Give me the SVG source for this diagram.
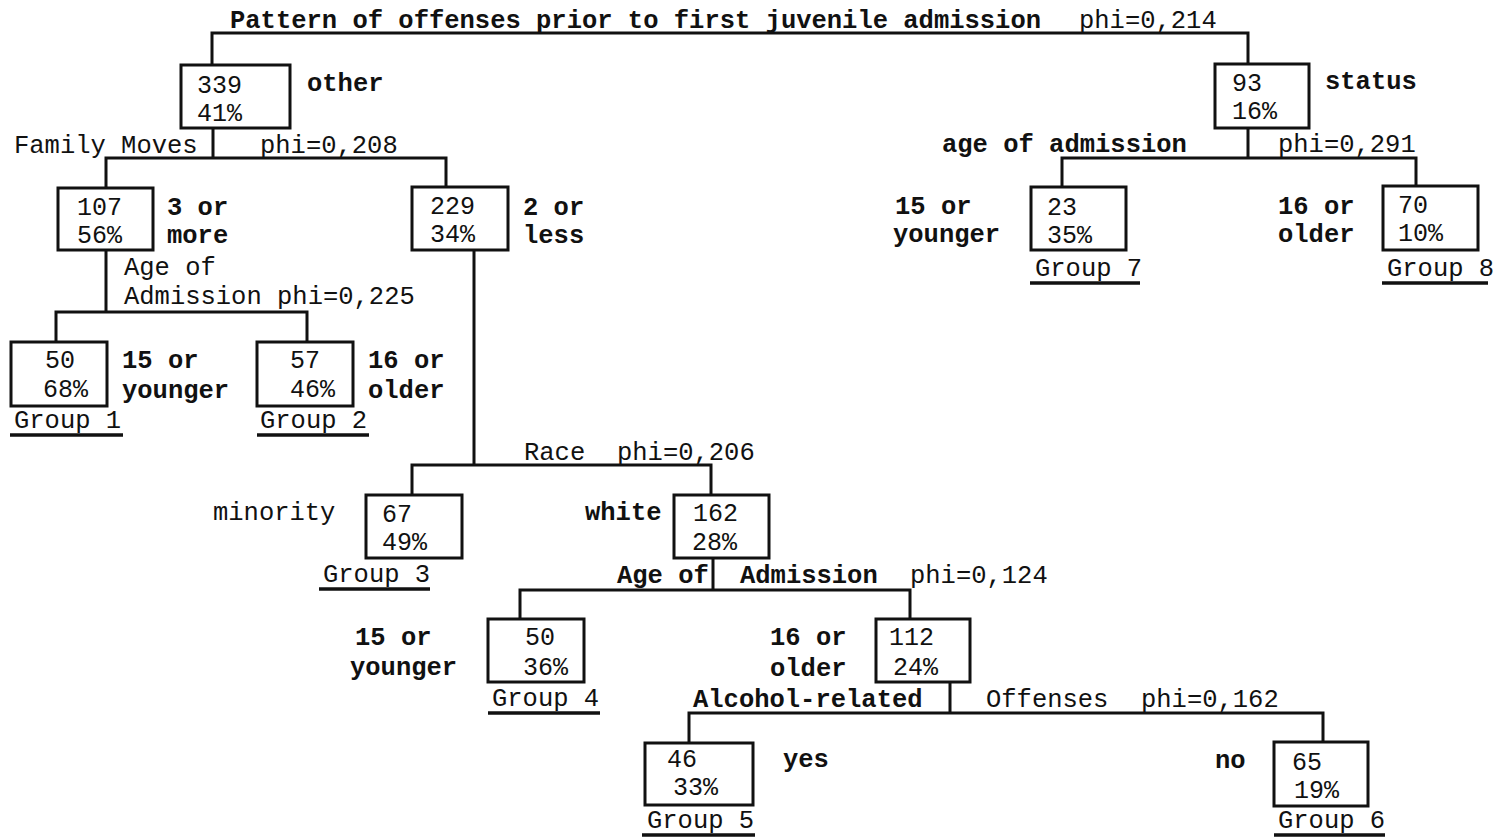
<svg xmlns="http://www.w3.org/2000/svg" width="1497" height="839" viewBox="0 0 1497 839">
<style>
text{font-family:"Liberation Mono","DejaVu Sans Mono",monospace;font-size:25.5px;fill:#111}
.b{font-weight:bold}
.n{font-size:25px}
.box{fill:none;stroke:#111;stroke-width:3}
.ln{fill:none;stroke:#111;stroke-width:3;stroke-linejoin:miter}
.ul{stroke:#111;stroke-width:3.5}
</style>
<rect width="1497" height="839" fill="#fff"/>
<g id="connectors" class="ln">
<path d="M212,65 V33 H1248 V64"/>
<path d="M213,128 V158 M106,188 V158 H446 V187"/>
<path d="M106,250 V312 M56,342 V312 H307 V342"/>
<path d="M474,250 V465 M412,495 V465 H711 V495"/>
<path d="M713,558 V590 M520,619 V590 H910 V619"/>
<path d="M950,682 V713 M689,743 V713 H1323 V742"/>
<path d="M1248,128 V158 M1062,187 V158 H1416 V186"/>
</g>
<g id="split-labels">
<text x="230" y="28" class="b">Pattern of offenses prior to first juvenile admission</text>
<text x="1079" y="28">phi=0,214</text>
<text x="14" y="153">Family Moves</text>
<text x="260" y="153">phi=0,208</text>
<text x="942" y="152" class="b">age of admission</text>
<text x="1278" y="152">phi=0,291</text>
<text x="124" y="275">Age of</text>
<text x="124" y="304">Admission phi=0,225</text>
<text x="524" y="460">Race</text>
<text x="617" y="460">phi=0,206</text>
<text x="617" y="583" class="b">Age of</text>
<text x="740" y="583" class="b">Admission</text>
<text x="910" y="583">phi=0,124</text>
<text x="693" y="707" class="b">Alcohol-related</text>
<text x="986" y="707">Offenses</text>
<text x="1141" y="707">phi=0,162</text>
</g>
<g id="node-339">
<rect class="box" x="181" y="65" width="109" height="63"/>
<text class="n" x="197" y="93">339</text><text class="n" x="197" y="121">41%</text>
<text class="b" x="307" y="91">other</text>
</g>
<g id="node-93">
<rect class="box" x="1215" y="64" width="94" height="64"/>
<text class="n" x="1232" y="91">93</text><text class="n" x="1232" y="119">16%</text>
<text class="b" x="1325" y="89">status</text>
</g>
<g id="node-107">
<rect class="box" x="58" y="188" width="95" height="62"/>
<text class="n" x="77" y="215">107</text><text class="n" x="77" y="243">56%</text>
<text class="b" x="167" y="215">3 or</text><text class="b" x="167" y="243">more</text>
</g>
<g id="node-229">
<rect class="box" x="412" y="187" width="96" height="63"/>
<text class="n" x="430" y="214">229</text><text class="n" x="430" y="242">34%</text>
<text class="b" x="523" y="215">2 or</text><text class="b" x="523" y="243">less</text>
</g>
<g id="node-23">
<rect class="box" x="1031" y="187" width="95" height="63"/>
<text class="n" x="1047" y="215">23</text><text class="n" x="1047" y="243">35%</text>
<text class="b" x="895" y="214">15 or</text><text class="b" x="893" y="242">younger</text>
<text x="1035" y="276">Group 7</text><line class="ul" x1="1030" y1="283" x2="1140" y2="283"/>
</g>
<g id="node-70">
<rect class="box" x="1383" y="186" width="95" height="64"/>
<text class="n" x="1398" y="213">70</text><text class="n" x="1398" y="241">10%</text>
<text class="b" x="1278" y="214">16 or</text><text class="b" x="1278" y="242">older</text>
<text x="1387" y="276">Group 8</text><line class="ul" x1="1382" y1="283" x2="1488" y2="283"/>
</g>
<g id="node-50a">
<rect class="box" x="11" y="342" width="96" height="64"/>
<text class="n" x="45" y="368">50</text><text class="n" x="43" y="397">68%</text>
<text class="b" x="122" y="368">15 or</text><text class="b" x="122" y="398">younger</text>
<text x="14" y="428">Group 1</text><line class="ul" x1="10" y1="435" x2="123" y2="435"/>
</g>
<g id="node-57">
<rect class="box" x="257" y="342" width="96" height="64"/>
<text class="n" x="290" y="368">57</text><text class="n" x="290" y="397">46%</text>
<text class="b" x="368" y="368">16 or</text><text class="b" x="368" y="398">older</text>
<text x="260" y="428">Group 2</text><line class="ul" x1="257" y1="435" x2="369" y2="435"/>
</g>
<g id="node-67">
<rect class="box" x="366" y="495" width="96" height="63"/>
<text class="n" x="382" y="522">67</text><text class="n" x="382" y="550">49%</text>
<text x="213" y="520">minority</text>
<text x="323" y="582">Group 3</text><line class="ul" x1="319" y1="589" x2="430" y2="589"/>
</g>
<g id="node-162">
<rect class="box" x="674" y="495" width="95" height="63"/>
<text class="n" x="693" y="521">162</text><text class="n" x="692" y="550">28%</text>
<text class="b" x="585" y="520">white</text>
</g>
<g id="node-50b">
<rect class="box" x="488" y="619" width="96" height="63"/>
<text class="n" x="525" y="645">50</text><text class="n" x="523" y="675">36%</text>
<text class="b" x="355" y="645">15 or</text><text class="b" x="350" y="675">younger</text>
<text x="492" y="706">Group 4</text><line class="ul" x1="488" y1="713" x2="600" y2="713"/>
</g>
<g id="node-112">
<rect class="box" x="876" y="619" width="94" height="63"/>
<text class="n" x="889" y="645">112</text><text class="n" x="893" y="675">24%</text>
<text class="b" x="770" y="645">16 or</text><text class="b" x="770" y="676">older</text>
</g>
<g id="node-46">
<rect class="box" x="645" y="743" width="108" height="62"/>
<text class="n" x="667" y="767">46</text><text class="n" x="673" y="795">33%</text>
<text class="b" x="783" y="767">yes</text>
<text x="647" y="828">Group 5</text><line class="ul" x1="642" y1="835" x2="755" y2="835"/>
</g>
<g id="node-65">
<rect class="box" x="1274" y="742" width="94" height="64"/>
<text class="n" x="1292" y="770">65</text><text class="n" x="1294" y="798">19%</text>
<text class="b" x="1215" y="768">no</text>
<text x="1278" y="828">Group 6</text><line class="ul" x1="1274" y1="835" x2="1385" y2="835"/>
</g>
</svg>
